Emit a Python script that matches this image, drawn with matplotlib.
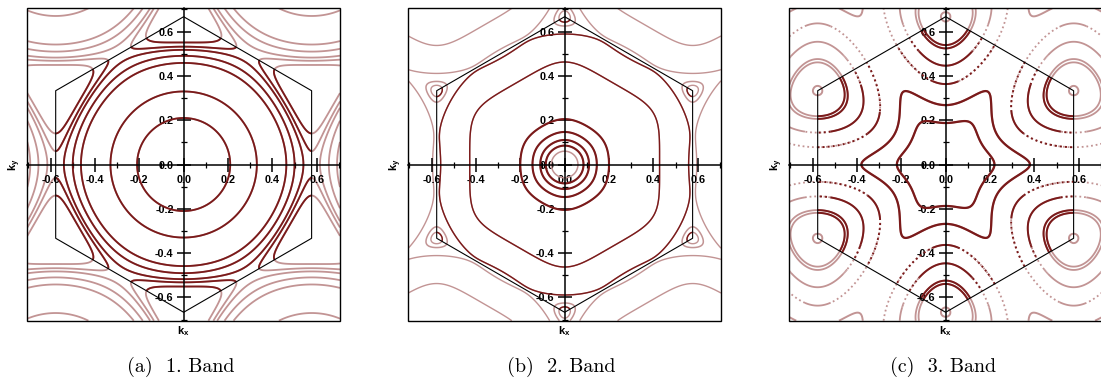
import numpy as np
import matplotlib
matplotlib.use('Agg')
import matplotlib.pyplot as plt
from matplotlib.patches import Polygon, Rectangle
from matplotlib.collections import LineCollection
from matplotlib.ticker import FixedLocator, MultipleLocator, FormatStrFormatter
import contourpy

plt.rcParams['axes.unicode_minus'] = False
plt.rcParams['mathtext.fontset'] = 'custom'
plt.rcParams['mathtext.bf'] = 'Liberation Sans:bold'
plt.rcParams['mathtext.rm'] = 'Liberation Sans'
plt.rcParams['mathtext.it'] = 'Liberation Sans:italic'

# ---------------- data ----------------
captions = ['(a)  1. Band', '(b)  2. Band', '(c)  3. Band']
tick_values = [-0.6, -0.4, -0.2, 0.0, 0.2, 0.4, 0.6]
hex_kx = [0.0, 0.577, 0.577, 0.0, -0.577, -0.577]
hex_ky = [0.667, 0.333, -0.333, -0.667, -0.333, 0.333]

# points (kx, ky) through which contour lines pass
band1_thick = [(0.21, 0), (0.33, 0), (0.463, 0), (0.50, 0), (0.54, 0),
               (0.577, 0.06), (0.577, 0.14)]
band1_thin = []
band1_light = []
band2_thick = [(0.085, 0), (0.11, 0), (0.145, 0), (0.20, 0)]
band2_thin = [(0.428, 0), (0.559, 0), (-0.552, 0.333)]
band2_light = [(0.06, 0), (-0.532, 0.333)]
band3_thick = [(0.22, 0), (0.38, 0)]
band3_thin = [(0, 0.363), (0, 0.446), (0, 0.524), (0, 0.539)]
band3_light = [(0, 0.645)]
# point on a contour where the band-3 lines turn from solid to dotted
band3_dot_onset = (-0.577, 0.13)

# nearly-free-electron model parameter (first Fourier shell), per band
V1_per_band = [0.13, 0.13, 0.24]

# ---------------- band model ----------------
b1 = np.array([2 / np.sqrt(3), 0.0])
b2 = np.array([1 / np.sqrt(3), 1.0])
G = np.array([n1 * b1 + n2 * b2 for n1 in range(-3, 4) for n2 in range(-3, 4)])
G = G[np.linalg.norm(G, axis=1) < 2.4]
dn = np.linalg.norm(G[:, None, :] - G[None, :, :], axis=-1)
shell1 = (np.abs(dn - 2 / np.sqrt(3)) < 1e-3).astype(float)
cand = G[np.linalg.norm(G, axis=1) < 2.1]
idx = np.arange(len(G))


def bands(kx, ky, V1):
    kx = np.asarray(kx, float)
    ky = np.asarray(ky, float)
    k = np.stack([kx.ravel(), ky.ravel()], axis=-1)
    d = np.linalg.norm(k[:, None, :] - cand[None, :, :], axis=-1)
    k = k - cand[np.argmin(d, axis=1)]
    out = np.empty((len(k), 3))
    Vmat = V1 * shell1
    step = 6000
    for s in range(0, len(k), step):
        kk = k[s:s + step]
        q = kk[:, None, :] + G[None, :, :]
        H = np.broadcast_to(Vmat, (len(kk), len(G), len(G))).copy()
        H[:, idx, idx] = np.sum(q ** 2, axis=-1)
        out[s:s + step] = np.linalg.eigvalsh(H)[:, :3]
    return out.reshape(kx.shape + (3,))


lim = 0.705
n = 281
xs = np.linspace(-lim, lim, n)
dx = xs[1] - xs[0]
X, Y = np.meshgrid(xs, xs)

dark = '#7a1a1a'
light = '#c29494'
dotted_ls = (0, (1, 1.6))


def levels_from(pts, b):
    if not pts:
        return []
    p = np.array(pts, float)
    v = bands(p[:, 0], p[:, 1], V1_per_band[b])[:, b]
    return sorted(set(np.round(v, 7)))


def grid_lookup(F, pts):
    pts = np.atleast_2d(pts)
    ix = np.clip(np.round((pts[:, 0] + lim) / dx).astype(int), 0, n - 1)
    iy = np.clip(np.round((pts[:, 1] + lim) / dx).astype(int), 0, n - 1)
    return F[iy, ix]


def draw_lines(ax, gen, levels, color, lw, z, clip=None, gmag=None, gthr=None):
    solid, dots = [], []
    for lev in levels:
        for L in gen.lines(lev):
            if len(L) < 2:
                continue
            if gmag is None:
                solid.append(L)
                continue
            mid = 0.5 * (L[1:] + L[:-1])
            m = grid_lookup(gmag, mid) > gthr
            start = 0
            for j in range(1, len(m) + 1):
                if j == len(m) or m[j] != m[start]:
                    piece = L[start:j + 1]
                    (dots if m[start] else solid).append(piece)
                    start = j
    for segs, ls in ((solid, 'solid'), (dots, dotted_ls)):
        if not segs:
            continue
        lc = LineCollection(segs, colors=color, linewidths=lw, linestyles=ls,
                            zorder=z, capstyle='butt')
        ax.add_collection(lc)
        if clip is not None:
            lc.set_clip_path(clip)


fig = plt.figure(figsize=(11.01, 3.83), dpi=100)
W, H = 1101.0, 383.0
lefts = [27.3, 408.3, 789.3]
styles = [
    dict(thick=band1_thick, thin=band1_thin, light=band1_light,
         lwk=1.3, lwt=1.0, lwl=1.0, onset=None),
    dict(thick=band2_thick, thin=band2_thin, light=band2_light,
         lwk=1.5, lwt=1.0, lwl=0.8, onset=None),
    dict(thick=band3_thick, thin=band3_thin, light=band3_light,
         lwk=1.6, lwt=1.4, lwl=1.1, onset=band3_dot_onset),
]
hexpts = np.column_stack([hex_kx, hex_ky])

for i in range(3):
    ax = fig.add_axes([lefts[i] / W, 62.3 / H, 312.7 / W, 312.4 / H])
    ax.set_xlim(-lim, lim)
    ax.set_ylim(-lim, lim)
    Eb = bands(X, Y, V1_per_band[i])[..., i]
    gen = contourpy.contour_generator(X, Y, Eb)
    st = styles[i]
    clip = Polygon(hexpts, closed=True, transform=ax.transData)
    gmag = gthr = None
    if st['onset'] is not None:
        gy, gx = np.gradient(Eb, dx, dx)
        gmag = np.hypot(gx, gy)
        gthr = 0.93 * grid_lookup(gmag, np.array(st['onset']))[0]

    lk = levels_from(st['thick'], i)
    lt = levels_from(st['thin'], i)
    ll = levels_from(st['light'], i)
    # light copies everywhere (seen outside the first Brillouin zone)
    draw_lines(ax, gen, lk, light, min(st['lwk'], st['lwl'] + 0.3), 1)
    draw_lines(ax, gen, lt, light, min(st['lwt'], st['lwl'] + 0.2), 1, gmag=gmag, gthr=gthr)
    # dark lines inside the first Brillouin zone
    draw_lines(ax, gen, lk, dark, st['lwk'], 2, clip=clip)
    draw_lines(ax, gen, lt, dark, st['lwt'], 2, clip=clip, gmag=gmag, gthr=gthr)
    draw_lines(ax, gen, ll, light, st['lwl'] + 0.3, 2)

    ax.add_patch(Polygon(hexpts, closed=True, fill=False, edgecolor='black', lw=0.8, zorder=3))
    ax.add_patch(Rectangle((0, 0), 1, 1, transform=ax.transAxes, fill=False,
                           edgecolor='black', lw=1.0, zorder=4, clip_on=False))

    for s in ['top', 'right']:
        ax.spines[s].set_visible(False)
    for s in ['left', 'bottom']:
        ax.spines[s].set_position('zero')
        ax.spines[s].set_linewidth(1.1)
        ax.spines[s].set_zorder(3.5)
    for a in (ax.xaxis, ax.yaxis):
        a.set_major_locator(FixedLocator(tick_values))
        a.set_minor_locator(MultipleLocator(0.1))
        a.set_major_formatter(FormatStrFormatter('%.1f'))
    ax.tick_params(which='major', direction='inout', length=10, width=1.1,
                   labelsize=7.8, pad=2.2, labelfontfamily='Liberation Sans')
    ax.tick_params(which='minor', direction='inout', length=4.5, width=0.9)
    for lbl in ax.get_xticklabels() + ax.get_yticklabels():
        lbl.set_fontweight('bold')

    ax.text(0.5, -0.012, r'$\mathbf{k}_\mathbf{x}$', transform=ax.transAxes,
            ha='center', va='top', fontsize=8)
    ax.text(-0.04, 0.5, r'$\mathbf{k}_\mathbf{y}$', transform=ax.transAxes,
            ha='center', va='center', rotation=90, fontsize=8)

    cx = (lefts[i] + 312.7 / 2 - 3) / W
    fig.text(cx, 1 - 367 / H, captions[i], fontfamily='cmr10', fontsize=14.4,
             ha='center', va='center')

fig.savefig('out.png', dpi=100)
